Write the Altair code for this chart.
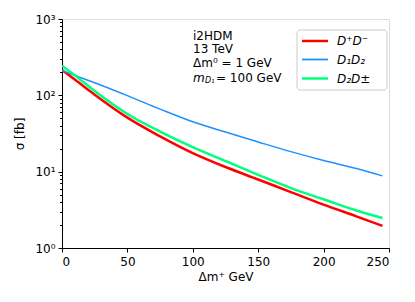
import altair as alt
import pandas as pd

dm_plus = [0, 10, 25, 50, 75, 100, 125, 150, 175, 200, 225, 245]
sigma_DpDm = [215, 160, 102, 51, 29, 17.5, 11.5, 7.9, 5.4, 3.7, 2.6, 1.95]
sigma_D1D2 = [212, 182, 146, 99, 66, 45, 33, 24.5, 18.3, 14, 11, 8.8]
sigma_D2Dpm = [245, 182, 114, 57, 33.5, 21, 13.8, 9.1, 6.1, 4.35, 3.1, 2.47]

series = ["D⁺D⁻", "D₁D₂", "D₂D±"]
colors = ["#ff0000", "#1e90ff", "#00ff7f"]
widths = [2.5, 1.5, 2.5]

rows = []
for name, vals in zip(series, [sigma_DpDm, sigma_D1D2, sigma_D2Dpm]):
    for xv, yv in zip(dm_plus, vals):
        rows.append({"dm": xv, "sigma": yv, "proc": name})
df = pd.DataFrame(rows)

FONT = "DejaVu Sans"
yticks = [v * m for m in [1, 10, 100] for v in range(1, 10)] + [1000]

xs = alt.X("dm:Q", scale=alt.Scale(domain=[0, 250], nice=False),
           axis=alt.Axis(values=[0, 50, 100, 150, 200, 250], title="Δm⁺ GeV",
                         grid=False, tickSize=4, tickColor="black", domainColor="black",
                         labelFontSize=12, titleFontSize=12, labelFont=FONT, titleFont=FONT,
                         titleFontWeight="normal", labelColor="black", titleColor="black",
                         labelPadding=4, titlePadding=4))
ys = alt.Y("sigma:Q", scale=alt.Scale(type="log", domain=[1, 1000], nice=False),
           axis=alt.Axis(values=yticks, title="σ [fb]", grid=False,
                         labelExpr="datum.value==1?'10⁰':datum.value==10?'10¹':datum.value==100?'10²':datum.value==1000?'10³':''",
                         tickSize={"condition": {"test": "indexof([1,10,100,1000], datum.value) >= 0", "value": 4}, "value": 2.5},
                         tickColor="black", domainColor="black", labelFontSize=12, titleFontSize=12,
                         labelFont=FONT, titleFont=FONT, titleFontWeight="normal",
                         labelColor="black", titleColor="black", labelPadding=3, titlePadding=8))

lines = alt.Chart(df).mark_line(clip=True, interpolate="monotone").encode(
    x=xs, y=ys,
    color=alt.Color("proc:N", scale=alt.Scale(domain=series, range=colors), legend=None),
    strokeWidth=alt.StrokeWidth("proc:N", scale=alt.Scale(type="ordinal", domain=series, range=widths), legend=None),
    order=alt.Order("dm:Q"),
)

def note(t, x, y, size=12, style="normal"):
    return alt.Chart(pd.DataFrame({"t": [t]})).mark_text(
        align="left", baseline="middle", fontSize=size, font=FONT, fontStyle=style, color="black"
    ).encode(text="t:N", x=alt.value(x), y=alt.value(y))

notes = [
    note("i2HDM", 131, 17),
    note("13 TeV", 131, 30),
    note("Δm⁰ = 1 GeV", 131, 44),
    note("m", 131, 59, style="italic"),
    note("D₁", 143, 62, size=8, style="italic"),
    note("= 100 GeV", 154, 59),
]

# legend box
box = alt.Chart(pd.DataFrame({"a": [0]})).mark_rect(
    fill="white", stroke="#cccccc", strokeWidth=1, cornerRadius=3
).encode(x=alt.value(235), x2=alt.value(325), y=alt.value(11), y2=alt.value(71))

leg_rows = [22, 40.5, 59.5]
leg = []
for name, col, w, yy in zip(series, colors, widths, leg_rows):
    leg.append(alt.Chart(pd.DataFrame({"p": [name]})).mark_rule(color=col, strokeWidth=2.5 if w > 2 else 1.8).encode(
        x=alt.value(240), x2=alt.value(266), y=alt.value(yy)))
    leg.append(note(name, 275, yy, style="italic"))

chart = alt.layer(lines, *notes, box, *leg).properties(
    width=327, height=229,
    autosize=alt.AutoSizeParams(type="none"),
    padding={"left": 54, "top": 11, "right": 10, "bottom": 42},
).configure_view(stroke="black", strokeWidth=1).configure(background="white")

chart.save("out.html", embed_options={"renderer": "svg", "actions": False})
